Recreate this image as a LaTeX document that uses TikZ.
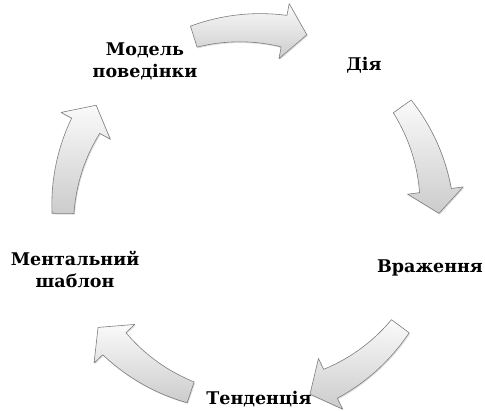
\documentclass[tikz,border=0pt]{standalone}
\usepackage{fontspec}
\setmainfont{DejaVu Serif}
\newfontfamily\lblfont{DejaVu Serif}
\usetikzlibrary{shadows}
\definecolor{arrowgray}{RGB}{125,125,125}

\begin{document}
\begin{tikzpicture}[x=1pt,y=1pt,
      lbl/.style={font=\lblfont\bfseries\fontsize{17.5}{22}\selectfont,align=center,inner sep=0pt},
      blk/.style={draw=arrowgray,line width=.6pt,top color=gray!4,bottom color=gray!40,line join=round,
        drop shadow={opacity=.25,shadow xshift=1pt,shadow yshift=-1.2pt}}]
  \useasboundingbox (0,0) rectangle (485,410);
  \coordinate (hub) at (250,195);
  \node[lbl] (model) at (145,349) {Модель\\поведінки};
  \node[lbl] (diia) at (364,345) {Дія};
  \node[lbl] (vrazh) at (430,142) {Враження};
  \node[lbl] (tend) at (259,11) {Тенденція};
  \node[lbl] (mental) at (75,141) {Ментальний\\шаблон};
  \begin{scope}[shift={(hub)}]
  \foreach \c in {90,18,-54,-126,162}{
    \pgfmathsetmacro\ta{\c+17.5}
    \pgfmathsetmacro\tb{\c-17.5}
    \pgfmathsetmacro\hb{\c-10.5}
    \path[blk] plot[domain=\ta:\hb,samples=20] (\x:{187+11+5*(\ta-\x)/28})
      -- (\hb:215) -- (\tb:189) -- (\hb:159)
      -- plot[domain=\hb:\ta,samples=20] (\x:{187-11-5*(\ta-\x)/28}) -- cycle;
  }
  \end{scope}
\end{tikzpicture}
\end{document}
